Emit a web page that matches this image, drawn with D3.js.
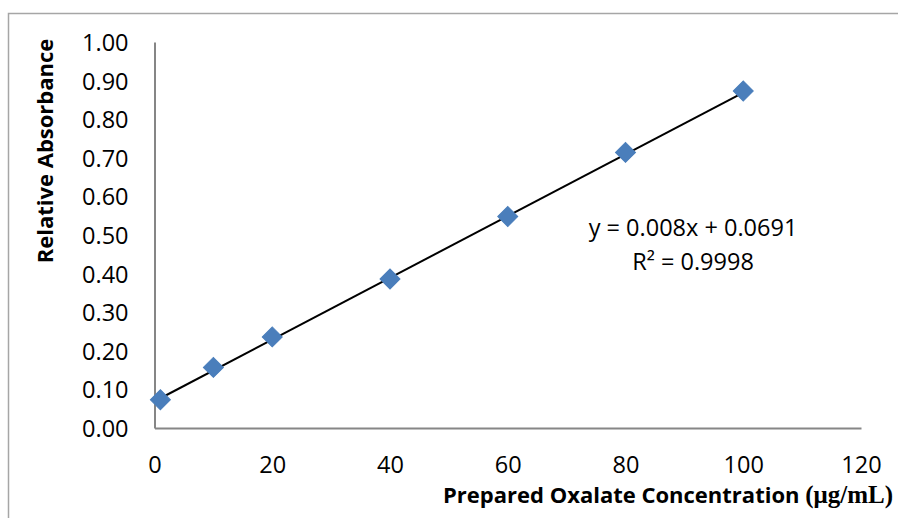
<!DOCTYPE html>
<html><head><meta charset="utf-8">
<script src="https://cdn.jsdelivr.net/npm/d3@7"></script>
<style>html,body{margin:0;padding:0;background:#fff;}svg{display:block;}</style>
</head><body>
<script>
const concentrations = [1, 10, 20, 40, 60, 80, 100];
const absorbances = [0.073, 0.157, 0.236, 0.386, 0.548, 0.714, 0.873];
const xTicks = [0, 20, 40, 60, 80, 100, 120];
const yTicks = [0, 0.1, 0.2, 0.3, 0.4, 0.5, 0.6, 0.7, 0.8, 0.9, 1.0];
const trendSlope = 0.008, trendIntercept = 0.0691;
const equationLines = ["y = 0.008x + 0.0691", "R² = 0.9998"];

const W = 898, H = 518;
const svg = d3.select("body").append("svg").attr("width", W).attr("height", H);
const font = "'Open Sans', sans-serif";

// outer chart border (cropped)
svg.append("path").attr("d", `M8.5,${H} L8.5,13.5 L${W},13.5`).attr("fill","none").attr("stroke","#a6a6a6").attr("stroke-width",1.5);

const x = d3.scaleLinear().domain([0,120]).range([154.5, 861]);
const y = d3.scaleLinear().domain([0,1]).range([428, 42]);

const xAxis = d3.axisBottom(x).tickValues(xTicks).tickSize(0).tickPadding(0).tickFormat(d3.format("d"));
const gx = svg.append("g").attr("transform", `translate(0,${y(0)})`).call(xAxis);
gx.select(".domain").attr("stroke","#868686").attr("stroke-width",2);
gx.selectAll("text").attr("font-family",font).attr("font-size",23.5).attr("fill","#000").attr("dy",null).attr("y",45);

const yAxis = d3.axisLeft(y).tickValues(yTicks).tickSize(0).tickPadding(0).tickFormat(d3.format(".2f"));
const gy = svg.append("g").attr("transform", `translate(${x(0)},0)`).call(yAxis);
gy.select(".domain").attr("stroke","#868686").attr("stroke-width",2);
gy.selectAll("text").attr("font-family",font).attr("font-size",23.5).attr("fill","#000").attr("dy","0.36em").attr("x",-26);

// trendline
const xs = [d3.min(concentrations), d3.max(concentrations)];
svg.append("line")
  .attr("x1", x(xs[0])).attr("y1", y(trendSlope*xs[0]+trendIntercept))
  .attr("x2", x(xs[1])).attr("y2", y(trendSlope*xs[1]+trendIntercept))
  .attr("stroke","#000").attr("stroke-width",2);

// markers
const data = concentrations.map((c,i)=>({c, a: absorbances[i]}));
svg.append("g").selectAll("path").data(data).join("path")
  .attr("d", d3.symbol().type(d3.symbolSquare).size(200))
  .attr("transform", d => `translate(${x(d.c)},${y(d.a)}) rotate(45)`)
  .attr("fill","#4a7ebb").attr("stroke","#4a7ebb").attr("stroke-width",1);

// equation
svg.append("g").selectAll("text").data(equationLines).join("text")
  .attr("x", 693).attr("y", (d,i)=> 236 + i*34)
  .attr("text-anchor","middle").attr("font-family",font).attr("font-size",23.5).attr("fill","#000")
  .text(d=>d);

// axis titles
svg.append("text")
  .attr("transform","translate(53,151) rotate(-90)")
  .attr("text-anchor","middle").attr("font-family",font).attr("font-weight","bold").attr("font-size",22).attr("fill","#000")
  .text("Relative Absorbance");

const xt = svg.append("text").attr("x", 893).attr("y", 503).attr("text-anchor","end").attr("font-weight","bold").attr("fill","#000");
xt.append("tspan").attr("font-family",font).attr("font-size",22).text("Prepared Oxalate Concentration ");
xt.append("tspan").attr("font-family","'Liberation Serif', serif").attr("font-size",25).text("(μg/mL)");
</script>
</body></html>
